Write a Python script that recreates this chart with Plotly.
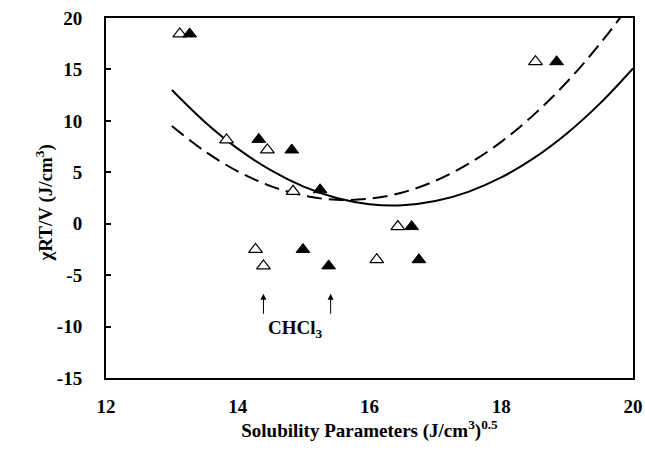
import plotly.graph_objects as go

# Open triangles (series 1)
open_x = [13.12, 13.83, 14.45, 14.84, 14.27, 14.39, 16.11, 16.43, 18.52]
open_y = [18.45, 8.15, 7.17, 3.15, -2.5, -4.1, -3.5, -0.28, 15.75]
# Filled triangles (series 2)
fill_x = [13.27, 14.32, 14.82, 15.25, 14.99, 15.38, 16.64, 16.75, 18.84]
fill_y = [18.45, 8.2, 7.17, 3.3, -2.5, -4.1, -0.28, -3.5, 15.75]

# Fitted curves
curve_x = [13, 13.5, 14, 14.5, 15, 15.5, 16, 16.5, 17, 17.5, 18, 18.5, 19, 19.5, 20]
solid_y = [13.0, 9.9, 7.3, 5.2, 3.6, 2.5, 1.9, 1.8, 2.2, 3.1, 4.5, 6.4, 8.8, 11.7, 15.1]
dash_y = [9.5, 7.04, 5.09, 3.66, 2.73, 2.32, 2.43, 3.04, 4.17, 5.81, 7.96, 10.63, 13.8, 17.5, 21.7]

# Arrows pointing at CHCl3 points
arrow_x = [14.39, 15.41]
arrow_tip_y = -6.8
arrow_tail_y = -8.9
label_x, label_y = 14.88, -10.2

x_ticks = [12, 14, 16, 18, 20]
x_tick_text = ["12", "14", "16", "18", "20"]
y_ticks = [-15, -10, -5, 0, 5, 10, 15, 20]
y_tick_text = ["-15", "-10", "-5", "0", "5", "10", "15", "20"]

FONT = "Liberation Serif"

fig = go.Figure()
fig.add_trace(go.Scatter(x=curve_x, y=solid_y, mode="lines", line=dict(color="black", width=2, shape="spline"),
                         showlegend=False, hoverinfo="skip"))
fig.add_trace(go.Scatter(x=curve_x, y=dash_y, mode="lines", line=dict(color="black", width=2, dash="15px,7px", shape="spline"),
                         showlegend=False, hoverinfo="skip"))
fig.add_trace(go.Scatter(x=open_x, y=open_y, mode="markers",
                         marker=dict(symbol="triangle-up", size=12, color="white", line=dict(color="black", width=1.2)),
                         showlegend=False))
fig.add_trace(go.Scatter(x=fill_x, y=fill_y, mode="markers",
                         marker=dict(symbol="triangle-up", size=12, color="black", line=dict(color="black", width=1)),
                         showlegend=False))

for ax_ in arrow_x:
    fig.add_annotation(x=ax_, y=arrow_tip_y, ax=ax_, ay=arrow_tail_y, xref="x", yref="y", axref="x", ayref="y",
                       showarrow=True, arrowhead=2, arrowsize=1.2, arrowwidth=1, arrowcolor="black", text="")
fig.add_annotation(x=label_x, y=label_y, xref="x", yref="y", showarrow=False, text="<b>CHCl<sub>3</sub></b>",
                   font=dict(family=FONT, size=19, color="black"))
# Y axis title
fig.add_annotation(x=-0.145, y=0.485, xref="paper", yref="paper", showarrow=False, textangle=-90,
                   text="<b>χRT/V (J/cm<sup>3</sup>)</b>", font=dict(family=FONT, size=19, color="black"))

fig.update_xaxes(range=[12, 20], tickvals=x_ticks, ticktext=x_tick_text, ticks="", showgrid=False, zeroline=False,
                 showline=True, linecolor="black", linewidth=2, mirror=True, automargin=False,
                 tickfont=dict(family=FONT, size=19, color="black", weight="bold"), ticklabelstandoff=10,
                 title=dict(text="<b>Solubility Parameters (J/cm<sup>3</sup>)<sup>0.5</sup></b>",
                            font=dict(family=FONT, size=19, color="black"), standoff=8))
fig.update_yaxes(range=[-15, 20], tickvals=y_ticks, ticktext=y_tick_text, ticks="inside", ticklen=5,
                 tickcolor="black", tickwidth=1.5,
                 showgrid=False, zeroline=False, showline=True, linecolor="black", linewidth=2, mirror=True,
                 automargin=False,
                 tickfont=dict(family=FONT, size=19, color="black", weight="bold"), ticklabelstandoff=18)
fig.update_layout(width=645, height=450, margin=dict(l=106, r=12, t=18, b=72),
                  plot_bgcolor="white", paper_bgcolor="white")
fig.write_html("out.html")
